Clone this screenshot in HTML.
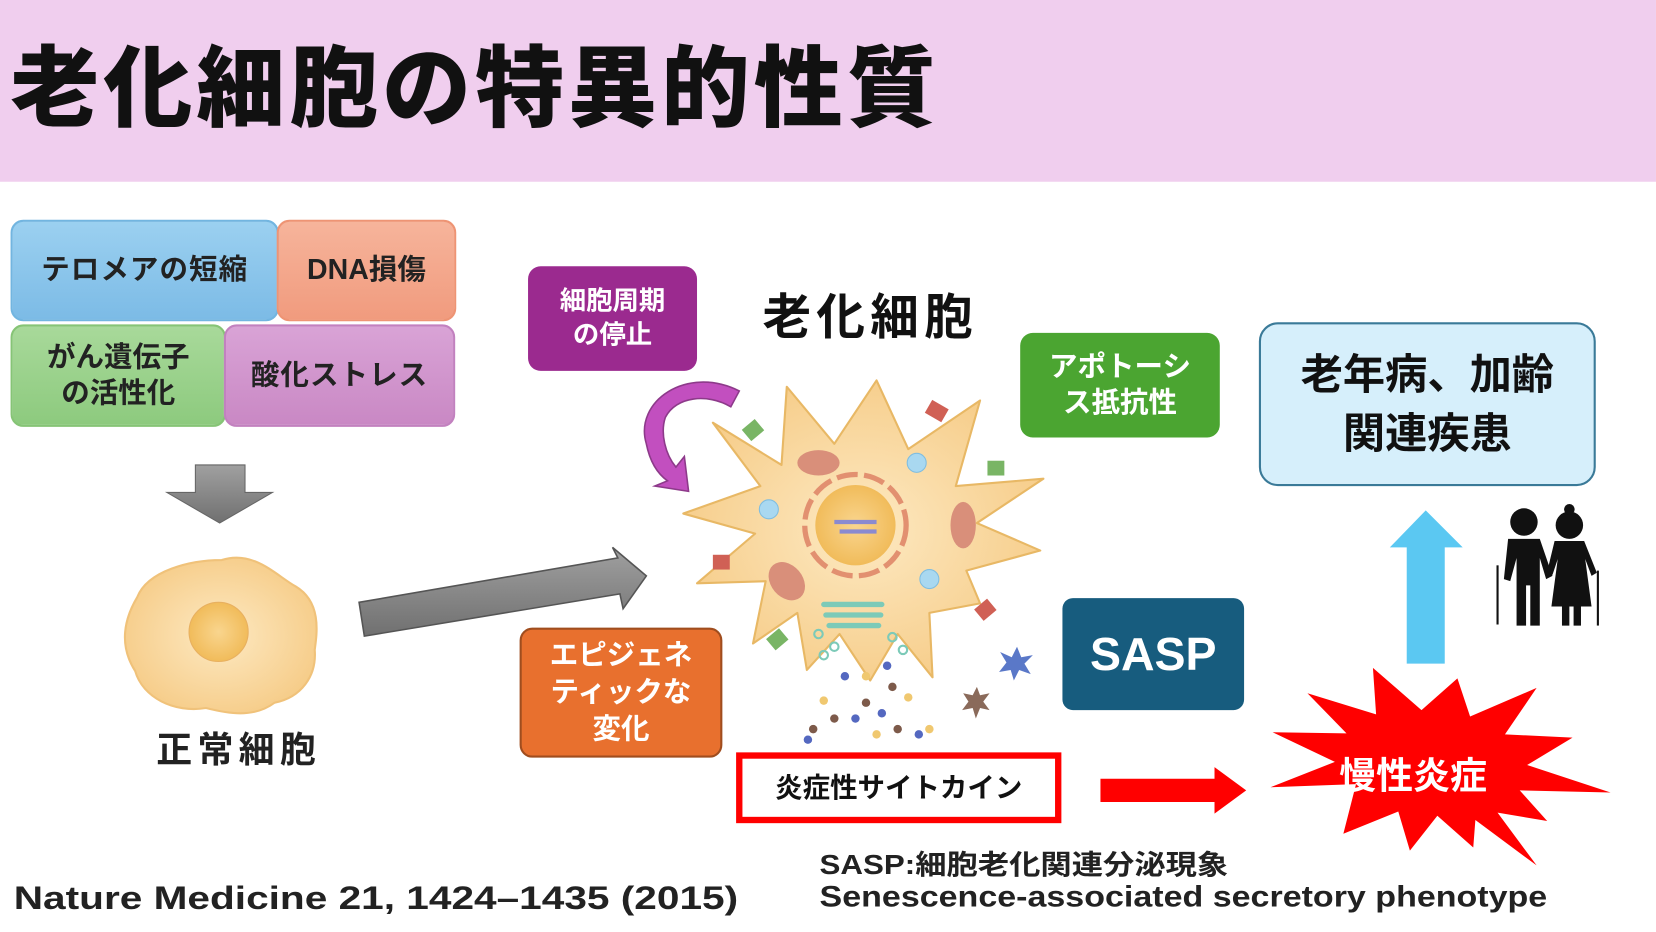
<!DOCTYPE html>
<html><head><meta charset="utf-8">
<style>
html,body{margin:0;padding:0;background:#fff;overflow:hidden;}
#w{position:absolute;left:0;top:0;width:1568px;height:882px;transform:scale(1.0561,1.0567);transform-origin:0 0;font-family:"Liberation Sans","Noto Sans CJK JP",sans-serif;font-weight:bold;}
.a{position:absolute;}
.box{position:absolute;display:flex;align-items:center;justify-content:center;text-align:center;border-radius:12px;box-sizing:border-box;line-height:1.25;}
</style></head><body>
<div id="w">
<div class="a" style="left:0;top:0;width:1568px;height:172px;background:#f0ceee;"></div>
<div class="a" style="left:10px;top:18px;font-size:84px;color:#111;letter-spacing:4px;line-height:120px;font-family:'Noto Sans CJK JP',sans-serif;font-weight:900;">老化細胞の特異的性質</div>

<div class="box" style="left:10px;top:208px;width:254px;height:96px;background:linear-gradient(#9bd0f0,#7cbbe6);border:2px solid #72b5e0;font-size:27px;color:#222;letter-spacing:1px;">テロメアの短縮</div>
<div class="box" style="left:262px;top:208px;width:170px;height:96px;background:linear-gradient(#f6b49b,#f19b7e);border:2px solid #ee9474;font-size:27px;color:#222;">DNA損傷</div>
<div class="box" style="left:10px;top:307px;width:204px;height:97px;background:linear-gradient(#a8d99a,#8dca7e);border:2px solid #86c476;font-size:27px;color:#222;">がん遺伝子<br>の活性化</div>
<div class="box" style="left:212px;top:307px;width:219px;height:97px;background:linear-gradient(#d9a3d6,#c988c4);border:2px solid #c281bf;font-size:27px;color:#222;letter-spacing:1px;">酸化ストレス</div>

<div class="box" style="left:500px;top:252px;width:160px;height:99px;background:#9b2a8f;color:#fff;font-size:25px;">細胞周期<br>の停止</div>
<div class="a" style="left:722px;top:264px;font-size:46px;color:#111;letter-spacing:5px;">老化細胞</div>
<div class="box" style="left:966px;top:315px;width:189px;height:99px;background:#4ba531;color:#fff;font-size:27px;">アポトーシ<br>ス抵抗性</div>
<div class="box" style="left:1192px;top:305px;width:319px;height:155px;background:#d6effb;border:2px solid #3a7a98;border-radius:18px;color:#111;font-size:40px;line-height:1.4;">老年病、加齢<br>関連疾患</div>
<div class="box" style="left:492px;top:594px;width:192px;height:123px;background:#e8702e;border:2px solid #a04d1e;color:#fff;font-size:27px;line-height:1.3;">エピジェネ<br>ティックな<br>変化</div>
<div class="box" style="left:1006px;top:566px;width:172px;height:106px;background:#175c7e;border-radius:10px;color:#fff;font-size:44px;font-family:'Liberation Sans',sans-serif;">SASP</div>
<div class="box" style="left:697px;top:712px;width:308px;height:67px;border:6px solid #f00;border-radius:0;background:#fff;color:#111;font-size:26px;font-weight:bold;">炎症性サイトカイン</div>
<div class="a" style="left:148px;top:682px;font-size:34px;color:#222;letter-spacing:5px;">正常細胞</div>
<div class="a" style="left:776px;top:798px;font-size:26px;color:#222;white-space:nowrap;transform:scaleX(1.14);transform-origin:0 0;">SASP:細胞老化関連分泌現象</div>
<div class="a" style="left:776px;top:833px;font-size:28px;color:#222;white-space:nowrap;transform:scaleX(1.15);transform-origin:0 0;">Senescence-associated secretory phenotype</div>
<div class="a" style="left:13px;top:832px;font-size:31px;color:#222;white-space:nowrap;transform:scaleX(1.24);transform-origin:0 0;">Nature Medicine 21, 1424–1435 (2015)</div>

<svg class="a" style="left:0;top:0" width="1568" height="882">
<defs>
<radialGradient id="cg" cx="50%" cy="50%" r="55%"><stop offset="0" stop-color="#fde9c2"/><stop offset="1" stop-color="#f6cc88"/></radialGradient>
<radialGradient id="ng" cx="50%" cy="50%" r="55%"><stop offset="0" stop-color="#f9d58e"/><stop offset="1" stop-color="#f0b955"/></radialGradient>
<linearGradient id="ga" x1="0" y1="0" x2="0" y2="1"><stop offset="0" stop-color="#a0a0a0"/><stop offset="1" stop-color="#707070"/></linearGradient>
</defs>
<polygon points="185,440 232,440 232,466 258,466 208,495 158,466 185,466" fill="url(#ga)" stroke="#666"/>
<path d="M210,530 C240,520 262,545 280,555 C305,570 300,600 298,615 C300,640 285,660 260,665 C240,680 215,675 195,670 C165,675 135,660 128,635 C112,610 118,585 130,565 C140,540 180,530 210,530Z" fill="url(#cg)" stroke="#f0c27a" stroke-width="2"/>
<circle cx="207" cy="598" r="28" fill="url(#ng)" stroke="#e8b060"/>
<polygon points="340,570 585,528 580,518 612,545 590,576 587,562 345,602" fill="url(#ga)" stroke="#555" stroke-width="1.5"/>
<path d="M700,370 C650,345 600,380 612,420 C616,440 625,450 632,455 L620,460 L652,465 L648,432 L640,442 C630,430 625,410 630,395 C640,375 670,372 692,385 Z" fill="#c24fbf" stroke="#8d3a8a" stroke-width="1.5"/>
<polygon points="675,400 740,440 745,366 790,420 830,360 860,425 928,379 905,460 988,453 925,495 985,521 915,540 928,571 880,580 883,641 850,600 824,644 795,600 764,634 755,580 713,609 725,550 660,552 715,505 647,486 720,460" fill="url(#cg)" stroke="#e8b865" stroke-width="2" stroke-linejoin="round"/>
<circle cx="810" cy="497" r="48" fill="none" stroke="#e29070" stroke-width="5" stroke-dasharray="20 6"/>
<circle cx="810" cy="497" r="38" fill="url(#ng)"/>
<path d="M790,494 h40 M795,503 h35" stroke="#8a8ad0" stroke-width="4"/>
<ellipse cx="775" cy="438" rx="20" ry="12" fill="#d98f7a"/>
<ellipse cx="912" cy="497" rx="12" ry="22" fill="#d98f7a"/>
<ellipse cx="745" cy="550" rx="15" ry="20" fill="#d98f7a" transform="rotate(-40 745 550)"/>
<circle cx="868" cy="438" r="9" fill="#a9d8f0" stroke="#7fbde0"/>
<circle cx="728" cy="482" r="9" fill="#a9d8f0" stroke="#7fbde0"/>
<circle cx="880" cy="548" r="9" fill="#a9d8f0" stroke="#7fbde0"/>
<path d="M780,572 h55 M782,582 h52 M785,592 h47" stroke="#7ccab8" stroke-width="5" stroke-linecap="round"/>
<g fill="none" stroke="#7ccab8" stroke-width="2"><circle cx="775" cy="600" r="4"/><circle cx="790" cy="612" r="4"/><circle cx="845" cy="603" r="4"/><circle cx="855" cy="615" r="4"/><circle cx="780" cy="620" r="4"/></g>
<g fill="#7d5a4a"><circle cx="845" cy="650" r="4"/><circle cx="820" cy="665" r="4"/><circle cx="790" cy="680" r="4"/><circle cx="850" cy="690" r="4"/><circle cx="770" cy="690" r="4"/></g>
<g fill="#5468c0"><circle cx="800" cy="640" r="4"/><circle cx="840" cy="630" r="4"/><circle cx="810" cy="680" r="4"/><circle cx="835" cy="675" r="4"/><circle cx="765" cy="700" r="4"/><circle cx="870" cy="695" r="4"/></g>
<g fill="#f0c870"><circle cx="820" cy="640" r="4"/><circle cx="780" cy="663" r="4"/><circle cx="860" cy="660" r="4"/><circle cx="830" cy="695" r="4"/><circle cx="880" cy="690" r="4"/></g>
<g fill="#d06055"><rect x="878" y="382" width="18" height="14" transform="rotate(30 887 389)"/><rect x="675" y="525" width="16" height="14"/><rect x="925" y="570" width="16" height="14" transform="rotate(-40 933 577)"/></g>
<g fill="#79b565"><rect x="705" y="400" width="16" height="14" transform="rotate(-40 713 407)"/><rect x="935" y="436" width="16" height="14"/><rect x="728" y="598" width="16" height="14" transform="rotate(-40 736 605)"/></g>
<polygon points="963,612 967,622 978,620 970,628 976,638 965,634 960,644 957,634 946,636 953,627 947,617 958,622" fill="#5a78c8"/>
<polygon points="925,650 928,658 937,656 931,664 937,672 928,670 924,680 921,670 911,672 917,664 912,656 921,658" fill="#8a6a5a"/>
<polygon points="1042,737 1150,737 1150,726 1180,748 1150,770 1150,759 1042,759" fill="#f00"/>
<polygon points="1300,632 1346,672 1380,642 1392,678 1455,651 1425,695 1489,698 1446,724 1525,750 1439,748 1465,777 1418,769 1455,819 1397,776 1395,802 1361,772 1335,805 1324,768 1272,789 1284,742 1203,745 1264,721 1205,693 1275,694 1238,656 1303,676" fill="#f00"/>
<polygon points="1332,628 1332,518 1316,518 1350,483 1385,518 1368,518 1368,628" fill="#5bc8f2"/>
<g fill="#111">
<circle cx="1443" cy="494" r="13"/>
<path d="M1428,510 h30 l12,35 l-6,3 l-6,-20 v64 h-9 v-38 h-4 v38 h-9 v-64 l-6,22 l-6,-2 z"/>
<rect x="1417" y="535" width="2" height="56"/>
<circle cx="1486" cy="497" r="13"/><circle cx="1486" cy="482" r="5"/>
<path d="M1472,512 h28 l12,30 l-5,3 l-6,-16 l6,45 h-10 v18 h-7 v-18 h-4 v18 h-7 v-18 h-10 l6,-45 l-5,15 l-5,-3 z"/>
<rect x="1512" y="540" width="2" height="52"/>
</g>
</svg>
<div class="a" style="left:1268px;top:706px;font-size:35px;color:#fff;white-space:nowrap;">慢性炎症</div>
</div>
</body></html>
